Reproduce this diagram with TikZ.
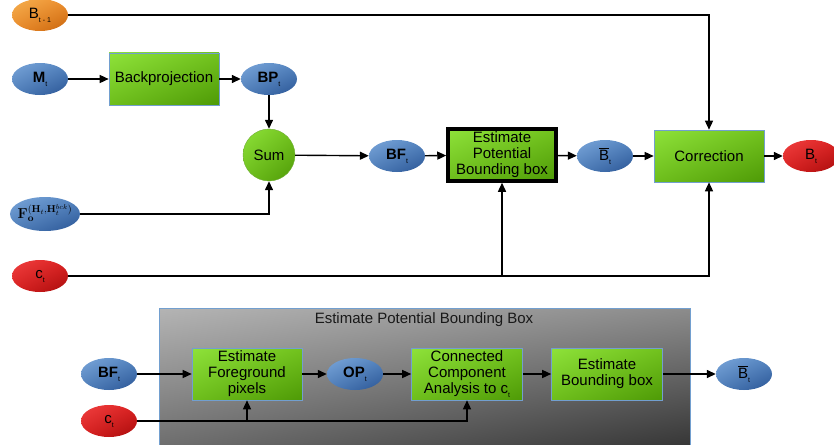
\documentclass[tikz,border=0pt]{standalone}
\usepackage[no-math]{fontspec}
\setmainfont{Liberation Sans}
\usetikzlibrary{shapes.geometric,arrows.meta,shadings}
\definecolor{gUL}{HTML}{8EE23A}
\definecolor{gUR}{HTML}{72C21E}
\definecolor{gLL}{HTML}{6EBE1C}
\definecolor{gLR}{HTML}{4E9A06}
\definecolor{bUL}{HTML}{7AA6DA}
\definecolor{bUR}{HTML}{5585C0}
\definecolor{bLL}{HTML}{4E7DB8}
\definecolor{bLR}{HTML}{2A5595}
\definecolor{oUL}{HTML}{F5B050}
\definecolor{oUR}{HTML}{EE9030}
\definecolor{oLL}{HTML}{EA8A2A}
\definecolor{oLR}{HTML}{C8650C}
\definecolor{rUL}{HTML}{F04040}
\definecolor{rUR}{HTML}{DC2222}
\definecolor{rLL}{HTML}{D82020}
\definecolor{rLR}{HTML}{A80C0C}
\definecolor{edgeblue}{HTML}{729FCF}
\definecolor{pUL}{HTML}{B4B4B4}
\definecolor{pUR}{HTML}{8C8C8C}
\definecolor{pLL}{HTML}{6E6E6E}
\definecolor{pLR}{HTML}{363636}
\newcommand{\sbt}[1]{\raisebox{-4pt}{\fontsize{7}{7}\selectfont #1}}
\tikzset{
  txt/.style={font=\fontsize{15}{16}\selectfont, text=black, align=center},
  greenbox/.style={txt, rectangle, draw=edgeblue, line width=0.6pt,
    minimum width=110pt, minimum height=52pt, inner sep=1pt,
    upper left=gUL, upper right=gUR, lower left=gLL, lower right=gLR},
  ell/.style={txt, ellipse, minimum width=56pt, minimum height=32pt, inner sep=0pt},
  blueell/.style={ell, upper left=bUL, upper right=bUR, lower left=bLL, lower right=bLR},
  orangeell/.style={ell, upper left=oUL, upper right=oUR, lower left=oLL, lower right=oLR},
  redell/.style={ell, upper left=rUL, upper right=rUR, lower left=rLL, lower right=rLR},
  arr/.style={line width=1.4pt, -{Triangle[length=9pt,width=8pt]}},
}
\begin{document}
\begin{tikzpicture}[x=1pt,y=-1pt]
\useasboundingbox (0,0) rectangle (834,444);
% bottom gray panel
\path[upper left=pUL, upper right=pUR, lower left=pLL, lower right=pLR]
  (159,308) rectangle (690,446);
\draw[edgeblue, line width=0.8pt] (159,446) -- (159,308) -- (690,308) -- (690,446);
\node[txt, text=black!90] (title) at (424,320) {Estimate Potential Bounding Box};

% top row
\node[orangeell] (bt1) at (40,15) {B\sbt{t - 1}};
\node[blueell] (m) at (40,79) {\textbf{M}\sbt{t}};
\node[greenbox] (bp) at (164,79) {Backprojection};
\node[blueell] (bpt) at (269,79) {\textbf{BP}\sbt{t}};
\node[txt, circle, minimum size=52pt, inner sep=0pt, draw=gLR!80, line width=0.4pt,
  upper left=gUL, upper right=gUR, lower left=gLL, lower right=gLR] (sum) at (269,155) {Sum};
\node[blueell] (bft) at (397,156) {\textbf{BF}\sbt{t}};
\node[greenbox, draw=black, line width=3.5pt, minimum width=108pt, minimum height=52pt] (epb) at (502,155)
  {Estimate\\Potential\\Bounding box};
\node[blueell] (bbar) at (605,156) {$\overline{\mbox{B}}$\sbt{t}};
\node[greenbox] (corr) at (709,156) {Correction};
\node[redell] (bt) at (811,156) {B\sbt{t}};
\node[blueell, minimum width=70pt, minimum height=34pt] (fo) at (45,214) {};
\node[font=\fontsize{14}{14}\selectfont, inner sep=0pt] (folabel) at (45,213)
  {$\mathbf{F}_{\mathbf{o}}^{(\mathbf{H}_{t},\mathbf{H}_{t}^{bck})}$};
\node[redell] (ct) at (40,276) {c\sbt{t}};

\draw[arr] (bt1.east) -| (corr.north);
\draw[arr] (m) -- (bp);
\draw[arr] (bp) -- (bpt);
\draw[arr] (bpt) -- (sum);
\draw[arr] (fo.east) -| (sum.south);
\draw[arr] (sum) -- (bft);
\draw[arr] (bft) -- (epb);
\draw[arr] (epb) -- (bbar);
\draw[arr] (bbar) -- (corr);
\draw[arr] (corr) -- (bt);
\draw[arr] (ct.east) -| (corr.south);
\coordinate (j1) at (epb.south |- ct.east);
\draw[arr] (j1) -- (epb.south);

% bottom row
\node[blueell] (bf2) at (109,374) {\textbf{BF}\sbt{t}};
\node[redell] (ct2) at (109,421) {c\sbt{t}};
\node[greenbox] (efp) at (247,374) {Estimate\\Foreground\\pixels};
\node[blueell] (op) at (355,374) {\textbf{OP}\sbt{t}};
\node[greenbox, minimum width=111pt] (cca) at (467,374) {Connected\\Component\\Analysis to c\sbt{t}};
\node[greenbox, minimum width=111pt] (ebb) at (607,374) {Estimate\\Bounding box};
\node[blueell] (bbar2) at (744,374) {$\overline{\mbox{B}}$\sbt{t}};

\draw[arr] (bf2) -- (efp);
\draw[arr] (efp) -- (op);
\draw[arr] (op) -- (cca);
\draw[arr] (cca) -- (ebb);
\draw[arr] (ebb) -- (bbar2);
\draw[arr] (ct2.east) -| (cca.south);
\coordinate (j2) at (efp.south |- ct2.east);
\draw[arr] (j2) -- (efp.south);
\end{tikzpicture}
\end{document}
